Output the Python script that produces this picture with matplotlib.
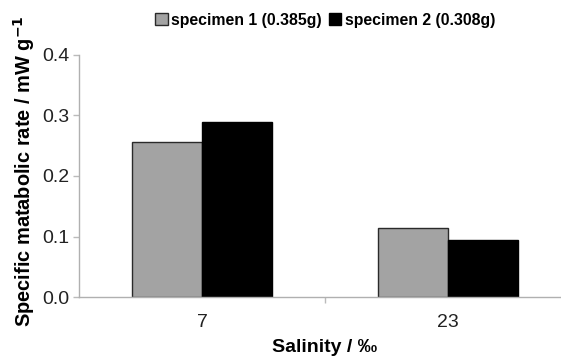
import matplotlib
matplotlib.use("Agg")
import matplotlib.pyplot as plt
import numpy as np

plt.rcParams['font.family'] = ['Liberation Sans', 'DejaVu Sans']

categories = ["7", "23"]
series_names = ["specimen 1 (0.385g)", "specimen 2 (0.308g)"]
specimen1 = [0.256, 0.114]
specimen2 = [0.290, 0.095]
yticks = [0.0, 0.1, 0.2, 0.3, 0.4]

W, H = 561, 357
fig = plt.figure(figsize=(W/100, H/100), dpi=100)
left, right, bottom, top = 79.3, 571, 60, 55
ax = fig.add_axes([left/W, bottom/H, (right-left)/W, (H-bottom-top)/H])

x = np.arange(len(categories))
bw = 0.285
b1 = ax.bar(x - bw/2, specimen1, bw, color="#a3a3a3", edgecolor="#2a2a2a", linewidth=1.0, label=series_names[0])
b2 = ax.bar(x + bw/2, specimen2, bw, color="#000000", edgecolor="#000000", linewidth=1.0, label=series_names[1])

ax.set_xlim(-0.5, 1.5)
ax.set_ylim(0, 0.4)
ax.set_yticks(yticks)
ax.set_yticklabels([f"{v:.1f}" for v in yticks], fontsize=14, color="#222222")
ax.set_xticks(x)
ax.set_xticklabels(categories, fontsize=14, color="#222222")
ax.tick_params(axis='x', which='major', length=0, pad=12)
ax.set_xticks([0.5], minor=True)
ax.tick_params(axis='x', which='minor', length=4, color="#bbbbbb", width=1)
ax.tick_params(axis='y', length=4, color="#bbbbbb", width=1, pad=3)

for s in ["top", "right"]:
    ax.spines[s].set_visible(False)
for s in ["left", "bottom"]:
    ax.spines[s].set_color("#b0b0b0")
    ax.spines[s].set_linewidth(1.0)

ax.set_ylabel("Specific matabolic rate / mW g$^{\\mathbf{-1}}$", fontsize=14.4, fontweight="bold")
ax.yaxis.set_label_coords(-42/(right-left), 0.52)
fig.text(325/W, 1 - 347/H, "Salinity / ‰", ha="center", va="center", fontsize=14, fontweight="bold")

fig.legend(handles=[b1, b2], labels=series_names, loc="center", bbox_to_anchor=(325/W, 1 - 20/H),
           ncol=2, frameon=False, prop={'weight': 'bold', 'size': 11.4},
           handlelength=0.8, handleheight=0.8, handletextpad=0.2, columnspacing=0.45)

fig.savefig("out.png", dpi=100)
